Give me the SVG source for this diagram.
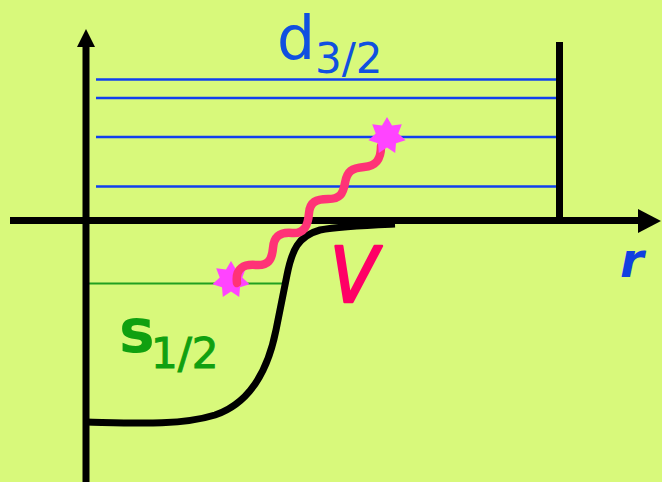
<svg xmlns="http://www.w3.org/2000/svg" width="662" height="482" viewBox="0 0 662 482">
<style>
.axis{stroke:#000;stroke-width:7;fill:none}
.lvl{stroke:#1040ee;stroke-width:2.5}
.star{fill:#ff44ff}
.lbl{font-family:"DejaVu Sans",sans-serif}
</style>
<defs>
<polygon id="star7" class="star" points="0,-19 5,-10.4 14.8,-11.8 11.3,-2.6 18.5,4.2 9,7.2 8.2,17 0,11.6 -8.2,17 -9,7.2 -18.5,4.2 -11.3,-2.6 -14.8,-11.8 -5,-10.4"/>
</defs>
<rect width="662" height="482" fill="#d8f97b"/>
<g id="levels">
<line class="lvl" x1="96" y1="79.5" x2="558" y2="79.5"/>
<line class="lvl" x1="96" y1="98" x2="558" y2="98"/>
<line class="lvl" x1="96" y1="137" x2="558" y2="137"/>
<line class="lvl" x1="96" y1="186.5" x2="558" y2="186.5"/>
<line x1="84" y1="283.5" x2="283" y2="283.5" stroke="#20a020" stroke-width="2"/>
</g>
<g id="axes">
<line class="axis" x1="86" y1="482" x2="86" y2="44" stroke-width="6"/>
<polygon points="77,47 86,29 95,47" fill="#000"/>
<line class="axis" x1="10" y1="220.5" x2="642" y2="220.5" stroke-width="8"/>
<polygon points="638,209 661,221 638,233" fill="#000"/>
<line class="axis" x1="559.5" y1="42" x2="559.5" y2="218"/>
</g>
<g id="potential">
<path class="axis" stroke-width="8" d="M86,422 C130,423 180,426 215,415 C250,403 268,370 276,330 L287,275 C292,250 298,236 320,230 C340,226 370,225 395,224"/>
</g>
<g id="star-low"><use href="#star7" x="231" y="280"/></g>
<g id="photon">
<path d="M237,283 C235,268 244,264 256,265 C268,266 272,260 273,248 C274,236 280,232 292,233 C304,234 308,226 309,213 C310,202 316,199 328,199 C340,199 343,194 345,183 C347,171 352,168 364,167 C376,166 381,160 381,146" fill="none" stroke="#ff3377" stroke-width="8.5" stroke-linecap="round"/>
</g>
<g id="star-high"><use href="#star7" x="387" y="136"/></g>
<g id="labels">
<text class="lbl" x="277" y="59" font-size="60" fill="#1050e0">d</text>
<text class="lbl" x="315" y="73" font-size="42" fill="#1050e0">3/2</text>
<text class="lbl" x="119" y="352" font-size="60" font-weight="bold" fill="#10a010">s</text>
<text class="lbl" x="151" y="368" font-size="42" fill="#10a010" stroke="#10a010" stroke-width="1">1/2</text>
<text class="lbl" x="330" y="302" font-size="76" font-style="italic" fill="#ff0066" stroke="#ff0066" stroke-width="2.5" stroke-linejoin="round" textLength="48" lengthAdjust="spacingAndGlyphs">V</text>
<text class="lbl" x="620" y="277" font-size="48" font-style="italic" font-weight="bold" fill="#1040e0">r</text>
</g>
</svg>
